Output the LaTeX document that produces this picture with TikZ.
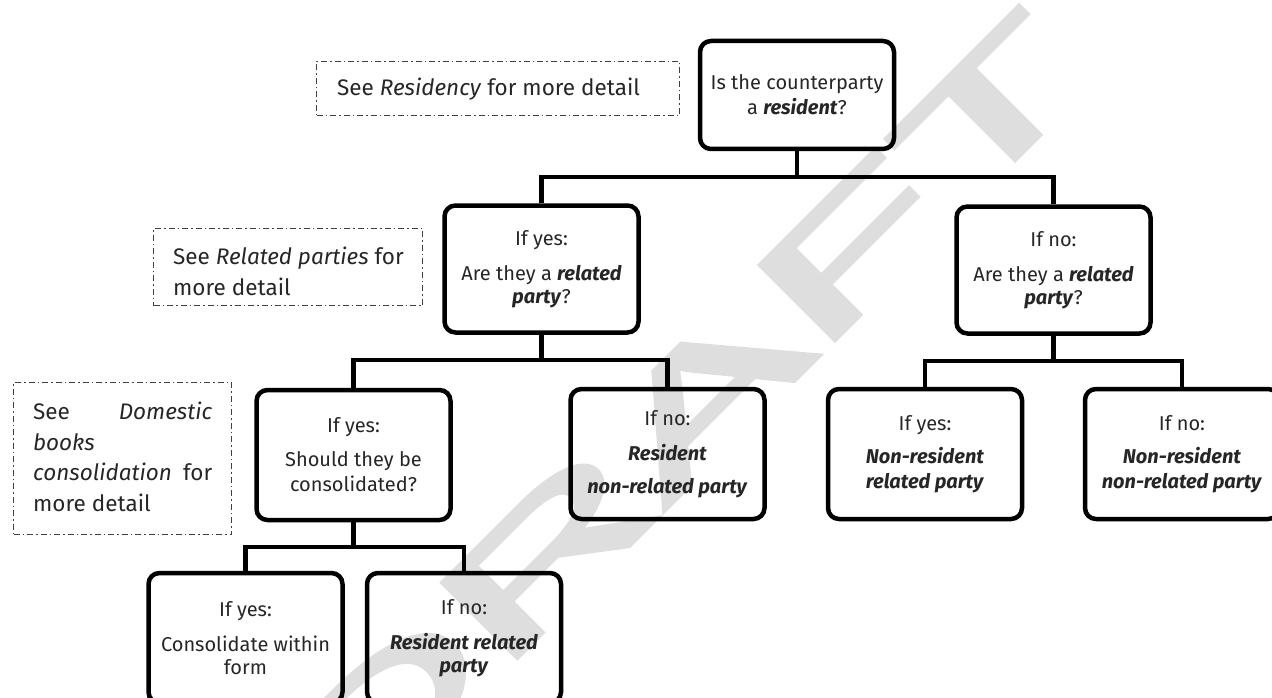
\documentclass[tikz,border=0pt]{standalone}
\usepackage{fontspec}
\usepackage{graphicx}
\setmainfont{Fira Sans}
\newfontfamily\wmfont{Liberation Sans}[FakeBold=3]
\newcommand\emb[1]{\textbf{\textit{#1}}}
\newcommand\boxfont{\fontsize{20}{23.5}\selectfont}
\newcommand\notefont{\fontsize{22.5}{30.5}\selectfont}
\begin{document}
\begin{tikzpicture}[x=1pt,y=-1pt,
  box/.style={draw=black, line width=4.5pt, rounded corners=11pt, inner sep=0pt,
    align=center, text=black!85, font=\boxfont},
  topbox/.style={box, minimum width=194pt, minimum height=108pt},
  lvltwo/.style={box, minimum width=194pt, minimum height=127pt},
  lvlthree/.style={box, minimum width=194pt, minimum height=130pt},
  conn/.style={draw=black, line width=4.5pt},
  note/.style={draw=black!75, line width=1.1pt,
    dash pattern=on 6pt off 3pt on 1.5pt off 3pt, inner sep=0pt},
  notetext/.style={inner sep=0pt, align=left, text=black!85, font=\notefont},
  watermark/.style={text=black!13, inner sep=0pt, rotate=45,
    font=\wmfont\fontsize{154}{154}\selectfont}
]
\clip (0,0) rectangle (1272,698);
\useasboundingbox (0,0) rectangle (1272,698);

% watermark
\node[watermark] (wm) at (679,421) {\scalebox{2.1}[1]{DRAFT}};

% boxes
\node[topbox] (top) at (797,95) {Is the counterparty\\[1.5pt]a \emb{resident}?};
\node[lvltwo] (yesrel) at (541.5,269) {If yes:\\[11.5pt]Are they a \emb{related}\\\emb{party}?};
\node[lvltwo] (norel) at (1053.5,270) {If no:\\[11.5pt]Are they a \emb{related}\\\emb{party}?};
\node[lvlthree] (cons) at (353.5,455) {If yes:\\[10.5pt]Should they be\\[1.5pt]consolidated?};
\node[lvlthree] (resnon) at (667.5,454) {If no:\\[11.5pt]\emb{Resident}\\[9.5pt]\emb{non-related party}};
\node[lvlthree] (nrrel) at (925,454) {If yes:\\[9.5pt]\emb{Non-resident}\\[1.5pt]\emb{related party}};
\node[lvlthree] (nrnon) at (1182,454) {If no:\\[9.5pt]\emb{Non-resident}\\[1.5pt]\emb{non-related party}};
\node[lvlthree] (within) at (245.5,638) {If yes:\\[11.5pt]Consolidate within\\form};
\node[lvlthree] (resrel) at (464,638) {If no:\\[11.5pt]\emb{Resident related}\\\emb{party}};

% junctions
\coordinate (j1) at (797,177);
\coordinate (j2) at (541.5,360);
\coordinate (j3) at (1053.5,361);
\coordinate (j4) at (353.5,547);

% connectors
\draw[conn] (top.south) -- (j1);
\draw[conn] (yesrel.north) |- (j1) -| (norel.north);
\draw[conn] (yesrel.south) -- (j2);
\draw[conn] (cons.north) |- (j2) -| (resnon.north);
\draw[conn] (norel.south) -- (j3);
\draw[conn] (nrrel.north) |- (j3) -| (nrnon.north);
\draw[conn] (cons.south) -- (j4);
\draw[conn] (within.north) |- (j4) -| (resrel.north);

% notes
\node[note, minimum width=363pt, minimum height=54pt] (n1) at (498,88.5) {};
\node[notetext, anchor=base west] (n1t) at (337,96) {See \textit{Residency} for more detail};

\node[note, minimum width=269pt, minimum height=77pt] (n2) at (288,267) {};
\node[notetext, anchor=north west] (n2t) at (173,247) {See \textit{Related parties} for\\more detail};

\node[note, minimum width=218pt, minimum height=152pt] (n3) at (122.5,458.5) {};
\node[notetext, anchor=north west] (n3t) at (33,402) {\makebox[179pt][s]{See\hfill\textit{Domestic}}\\\textit{books}\\\makebox[179pt][s]{\textit{consolidation}\hfill for}\\more detail};
\end{tikzpicture}
\end{document}
